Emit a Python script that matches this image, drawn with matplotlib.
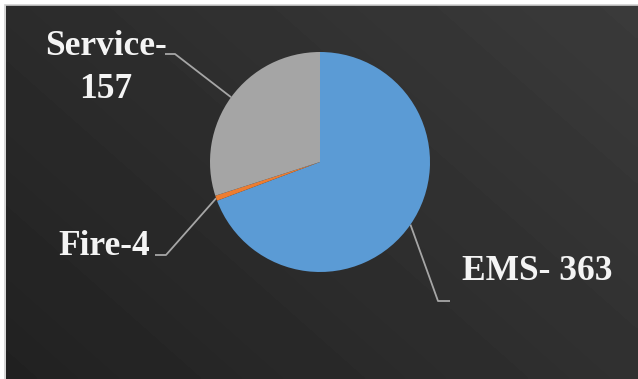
import numpy as np
import matplotlib.pyplot as plt

# данные
labels = ['EMS- 363', 'Fire-4', 'Service-\n157']
values = [363, 4, 157]
colors = ['#5B9BD5', '#ED7D31', '#A5A5A5']

W, H = 638, 379
fig = plt.figure(figsize=(W / 100, H / 100), dpi=100)
fig.patch.set_facecolor('white')
ax = fig.add_axes([0, 0, 1, 1])

# фон: тёмный градиент (снизу-слева темнее)
gx, gy = np.meshgrid(np.linspace(0, 1, 200), np.linspace(1, 0, 120))
grad = 0.13 + 0.10 * (0.6 * gx + 0.4 * gy)
ax.imshow(grad, cmap='gray', vmin=0, vmax=1, extent=(6, W, 0, H - 5),
          aspect='auto', zorder=0, interpolation='bilinear')
ax.add_patch(plt.Rectangle((5, -1), W, H - 4, fill=False,
                           edgecolor='#cfcfcf', lw=1.2, zorder=1))

# круговая диаграмма
cx, cy, r = 320, H - 162, 110
wedges, _ = ax.pie(values, colors=colors, startangle=90, counterclock=False,
                   center=(cx, cy), radius=r, wedgeprops=dict(linewidth=0))
for w in wedges:
    w.set_zorder(3)

ax.set_xlim(0, W)
ax.set_ylim(0, H)
ax.set_aspect('auto')
ax.axis('off')

font = dict(family='Liberation Serif', weight='bold', size=25.5, color='#f4f4f4')

def edge_point(w):
    ang = np.deg2rad((w.theta1 + w.theta2) / 2)
    return cx + r * np.cos(ang), cy + r * np.sin(ang)

line_kw = dict(color='#a6a6a6', lw=1.3, zorder=2, solid_capstyle='butt')

# EMS
px, py = edge_point(wedges[0])
ax.plot([px, 438, 450], [py, H - 301, H - 301], **line_kw)
ax.text(462, H - 280, labels[0], ha='left', va='baseline', **font)

# Fire
px, py = edge_point(wedges[1])
ax.plot([px, 166, 155], [py, H - 255, H - 255], **line_kw)
ax.text(150, H - 255, labels[1], ha='right', va='baseline', **font)

# Service
px, py = edge_point(wedges[2])
ax.plot([px, 175, 165], [py, H - 54, H - 54], **line_kw)
l1, l2 = labels[2].split('\n')
ax.text(106, H - 55, l1, ha='center', va='baseline', **font)
ax.text(106, H - 98, l2, ha='center', va='baseline', **font)

plt.savefig('out.png', dpi=100)
